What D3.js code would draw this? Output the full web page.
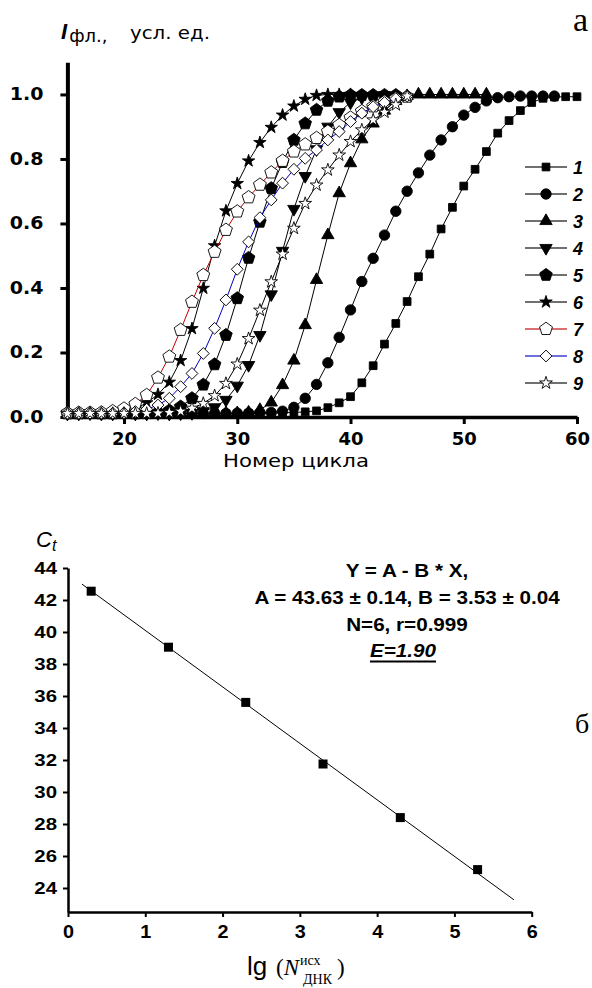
<!DOCTYPE html>
<html>
<head>
<meta charset="utf-8">
<script src="https://cdn.jsdelivr.net/npm/d3@7"></script>
<style>
    body { margin: 0; background: #fff; }
    svg { display: block; }
</style>
</head>
<body>
<div id="chart"></div>
<script>
// ---- panel a: fluorescence curves, one value per cycle starting at cycle 15
var firstCycle = 15;
var curve1 = [0.012, 0.011, 0.012, 0.011, 0.010, 0.011, 0.010, 0.011, 0.010, 0.010, 0.011, 0.010, 0.010, 0.011, 0.010,
    0.010, 0.011, 0.011, 0.012, 0.013, 0.014, 0.016,
    0.019, 0.029, 0.044, 0.063, 0.106, 0.159, 0.226, 0.290, 0.358, 0.435, 0.505, 0.583, 0.650, 0.716, 0.768, 0.823,
    0.880, 0.919, 0.950, 0.975, 0.988, 0.992, 0.993, 0.993];
var curve2 = [0.011, 0.012, 0.011, 0.011, 0.012, 0.011, 0.011, 0.012, 0.011, 0.011, 0.012, 0.011, 0.011, 0.012, 0.011,
    0.012, 0.012, 0.013, 0.014,
    0.018, 0.030, 0.058, 0.101, 0.168, 0.247, 0.332, 0.420, 0.492, 0.564, 0.638, 0.700, 0.757, 0.812, 0.859, 0.900,
    0.936, 0.960, 0.980, 0.990, 0.993, 0.995, 0.995, 0.995, 0.995];
var curve3 = [0.011, 0.011, 0.012, 0.011, 0.011, 0.012, 0.011, 0.011, 0.012, 0.011, 0.011, 0.012, 0.011, 0.011, 0.012, 0.012,
    0.014, 0.022, 0.045, 0.099, 0.175, 0.285, 0.425, 0.564, 0.694, 0.787, 0.861, 0.910, 0.950, 0.980, 0.995,
    1.0, 1.0, 1.0, 1.0, 1.0, 1.0, 1.0];
var curve4 = [0.010, 0.010, 0.011, 0.010, 0.010, 0.011, 0.010, 0.010, 0.011, 0.010, 0.011, 0.012,
    0.018, 0.030, 0.053, 0.097, 0.161, 0.254, 0.380, 0.515, 0.645, 0.747, 0.830, 0.900, 0.945, 0.975, 0.990, 0.995, 0.998];
var curve5 = [0.011, 0.011, 0.012, 0.011, 0.011, 0.012, 0.011, 0.012,
    0.014, 0.020, 0.032, 0.058, 0.100, 0.163, 0.254, 0.368, 0.493, 0.605, 0.709, 0.790, 0.859, 0.910, 0.952, 0.980,
    0.993, 0.998, 0.998, 0.998, 0.998, 0.998];
var curve6 = [0.012, 0.012, 0.013, 0.012, 0.013, 0.015,
    0.025, 0.044, 0.070, 0.108, 0.175, 0.274, 0.399, 0.531, 0.639, 0.724, 0.794, 0.851, 0.898, 0.936, 0.964, 0.985,
    0.997, 1.0, 1.0, 1.0];
var curve7 = [0.012, 0.013, 0.013, 0.014, 0.018, 0.026, 0.040, 0.068, 0.122, 0.187, 0.270, 0.357, 0.440, 0.512, 0.580,
    0.637, 0.681, 0.720, 0.758, 0.794, 0.823, 0.845, 0.865, 0.885, 0.905, 0.928, 0.948, 0.963, 0.977, 0.987, 0.993];
var curve8 = [0.012, 0.012, 0.012, 0.012, 0.012, 0.013, 0.017, 0.024, 0.037, 0.058, 0.094, 0.135, 0.197, 0.275, 0.363,
    0.458, 0.543, 0.618, 0.673, 0.725, 0.768, 0.802, 0.828, 0.859, 0.885, 0.916, 0.942, 0.962, 0.975, 0.987, 0.995];
var curve9 = [0.011, 0.011, 0.011, 0.011, 0.011, 0.011, 0.011, 0.011,
    0.012, 0.014, 0.018, 0.027, 0.042, 0.066, 0.104, 0.164, 0.243, 0.331, 0.419, 0.505, 0.585, 0.662, 0.719, 0.766,
    0.812, 0.854, 0.890, 0.921, 0.945, 0.968, 0.995];
var curveNames = ['1', '2', '3', '4', '5', '6', '7', '8', '9'];
var xTicksA = [20, 30, 40, 50, 60];
var xMinorA = [15, 25, 35, 45, 55];
var yTicksA = [0, 0.2, 0.4, 0.6, 0.8, 1.0];
var yMinorA = [0.1, 0.3, 0.5, 0.7, 0.9, 1.1];

// ---- panel b: Ct vs lg(N)
var lgN = [0.30, 1.30, 2.30, 3.30, 4.30, 5.30];
var ctValues = [42.55, 39.05, 35.60, 31.75, 28.40, 25.15];
var fitA = 43.63;
var fitB = 3.53;
var fitRange = [0.18, 5.77];
var xTicksB = [0, 1, 2, 3, 4, 5, 6];
var xMinorB = [0.5, 1.5, 2.5, 3.5, 4.5, 5.5];
var yTicksB = [24, 26, 28, 30, 32, 34, 36, 38, 40, 42, 44];
var yMinorB = [23, 25, 27, 29, 31, 33, 35, 37, 39, 41, 43];
var fitLines = ['Y = A - B * X,', 'A = 43.63 \u00b1 0.14, B = 3.53 \u00b1 0.04', 'N=6, r=0.999'];
var fitResult = 'E=1.90';

var width = 592;
var height = 988;

var svg = d3.select('#chart').append('svg')
    .attr('width', width)
    .attr('height', height);

// stretch text horizontally (the original figure is a bit wide)
function stretch(sel, k) {
    sel.each(function() {
        var t = d3.select(this);
        var x = +t.attr('x') || 0;
        t.attr('x', x / k).attr('transform', 'scale(' + k + ',1)');
    });
}

function pentagon(r) {
    var pts = [];
    for (var k = 0; k < 5; k++) {
        var a = -Math.PI / 2 + k * 2 * Math.PI / 5;
        pts.push([r * Math.cos(a), r * Math.sin(a)]);
    }
    return 'M' + pts.join('L') + 'Z';
}

var markerStyle = [
    { path: d3.symbol(d3.symbolSquare, 60)(), rot: 0, fill: '#000', line: '#000' },
    { path: d3.symbol(d3.symbolCircle, 85)(), rot: 0, fill: '#000', line: '#000' },
    { path: d3.symbol(d3.symbolTriangle, 66)(), rot: 0, fill: '#000', line: '#000' },
    { path: d3.symbol(d3.symbolTriangle, 66)(), rot: 180, fill: '#000', line: '#000' },
    { path: pentagon(6.6), rot: 0, fill: '#000', line: '#000' },
    { path: d3.symbol(d3.symbolStar, 48)(), rot: 0, fill: '#000', line: '#000' },
    { path: pentagon(6.8), rot: 0, fill: '#fff', line: '#c00000' },
    { path: d3.symbol(d3.symbolSquare, 70)(), rot: 45, fill: '#fff', line: '#0000c0' },
    { path: d3.symbol(d3.symbolStar, 50)(), rot: 0, fill: '#fff', line: '#000' }
];

// ================= panel a =================
var xA = d3.scaleLinear().domain([15, 60]).range([67.4, 577]);
var yA = d3.scaleLinear().domain([0, 1.1]).range([417, 62.2]);

var axisFont = 'DejaVu Sans, Verdana, sans-serif';

var gxA = svg.append('g').attr('transform', 'translate(0,' + yA(0) + ')');
gxA.call(d3.axisBottom(xA).tickValues(xMinorA).tickSize(5).tickSizeOuter(0).tickFormat(''));
gxA.call(d3.axisBottom(xA).tickValues(xTicksA).tickSize(7).tickPadding(8).tickSizeOuter(0).tickFormat(d3.format('d')));
gxA.selectAll('.domain').attr('stroke-width', 3.5);
gxA.selectAll('.tick line').attr('stroke-width', 3);
gxA.selectAll('text').attr('font-family', axisFont).attr('font-weight', 'bold').attr('font-size', 18).attr('fill', '#000');

var gyA = svg.append('g').attr('transform', 'translate(' + xA(15) + ',0)');
gyA.call(d3.axisLeft(yA).tickValues(yMinorA).tickSize(5).tickSizeOuter(0).tickFormat(''));
gyA.call(d3.axisLeft(yA).tickValues(yTicksA).tickSize(7).tickPadding(17).tickSizeOuter(0).tickFormat(d3.format('.1f')));
gyA.selectAll('.domain').attr('stroke-width', 4);
gyA.selectAll('.tick line').attr('stroke-width', 3);
gyA.selectAll('text').attr('font-family', axisFont).attr('font-weight', 'bold').attr('font-size', 17).attr('fill', '#000');
stretch(gyA.selectAll('text'), 1.12);

var curves = [curve1, curve2, curve3, curve4, curve5, curve6, curve7, curve8, curve9];
var lineA = d3.line()
    .x(function(d, i) { return xA(firstCycle + i); })
    .y(function(d) { return yA(d); });

var plotA = svg.append('g');
curves.forEach(function(values, k) {
    var st = markerStyle[k];
    var g = plotA.append('g');
    g.append('path')
        .attr('d', lineA(values))
        .attr('fill', 'none')
        .attr('stroke', st.line)
        .attr('stroke-width', 1);
    g.selectAll('path.mark')
        .data(values)
        .enter()
        .append('path')
        .attr('class', 'mark')
        .attr('d', st.path)
        .attr('transform', function(d, i) {
            return 'translate(' + xA(firstCycle + i) + ',' + yA(d) + ') rotate(' + st.rot + ')';
        })
        .attr('fill', st.fill)
        .attr('stroke', '#000')
        .attr('stroke-width', 0.9);
});

// legend
var legend = svg.append('g');
curveNames.forEach(function(name, k) {
    var st = markerStyle[k];
    var yy = 167 + k * 27;
    legend.append('line')
        .attr('x1', 525).attr('x2', 567)
        .attr('y1', yy).attr('y2', yy)
        .attr('stroke', st.line)
        .attr('stroke-opacity', 0.75)
        .attr('stroke-width', 1.3);
    legend.append('path')
        .attr('d', st.path)
        .attr('transform', 'translate(546,' + yy + ') rotate(' + st.rot + ')')
        .attr('fill', st.fill)
        .attr('stroke', '#000')
        .attr('stroke-width', 0.9);
    legend.append('text')
        .attr('x', 573)
        .attr('y', yy + 6.5)
        .attr('font-family', 'Liberation Sans, Arial, sans-serif')
        .attr('font-weight', 'bold')
        .attr('font-style', 'italic')
        .attr('font-size', 18)
        .text(name);
});

// titles of panel a
var titleA = svg.append('text')
    .attr('x', 61)
    .attr('y', 39)
    .attr('font-family', axisFont)
    .attr('font-size', 18);
titleA.append('tspan').attr('font-weight', 'bold').attr('font-style', 'italic')
    .attr('font-family', 'Liberation Sans, Arial, sans-serif').attr('font-size', 22).text('I');
titleA.append('tspan').attr('dx', 2).attr('dy', 3).text('фл.,');

var unitA = svg.append('text')
    .attr('x', 130)
    .attr('y', 39)
    .attr('font-family', axisFont)
    .attr('font-size', 18)
    .text('усл. ед.');
stretch(unitA, 1.1);

var xTitleA = svg.append('text')
    .attr('x', 296)
    .attr('y', 467)
    .attr('text-anchor', 'middle')
    .attr('font-family', axisFont)
    .attr('font-size', 18)
    .text('Номер цикла');
stretch(xTitleA, 1.18);

svg.append('text')
    .attr('x', 573)
    .attr('y', 31)
    .attr('font-family', 'Liberation Serif, Times New Roman, serif')
    .attr('font-size', 34)
    .text('а');

svg.append('text')
    .attr('x', 575)
    .attr('y', 733)
    .attr('font-family', 'Liberation Serif, Times New Roman, serif')
    .attr('font-size', 28)
    .text('б');

// ================= panel b =================
var xB = d3.scaleLinear().domain([0, 6]).range([68, 531.7]);
var yB = d3.scaleLinear().domain([22.5, 44]).range([912, 568]);
var arial = 'Liberation Sans, Arial, sans-serif';

var gxB = svg.append('g').attr('transform', 'translate(0,' + yB(22.5) + ')');
gxB.call(d3.axisBottom(xB).tickValues(xMinorB).tickSize(3).tickSizeOuter(0).tickFormat(''));
gxB.call(d3.axisBottom(xB).tickValues(xTicksB).tickSize(5).tickPadding(8).tickSizeOuter(0).tickFormat(d3.format('d')));
gxB.selectAll('.domain').attr('stroke-width', 2.5);
gxB.selectAll('.tick line').attr('stroke-width', 2);
gxB.selectAll('text').attr('font-family', arial).attr('font-weight', 'bold').attr('font-size', 18).attr('fill', '#000');
stretch(gxB.selectAll('text'), 1.1);

var gyB = svg.append('g').attr('transform', 'translate(' + xB(0) + ',0)');
gyB.call(d3.axisLeft(yB).tickValues(yMinorB).tickSize(3).tickSizeOuter(0).tickFormat(''));
gyB.call(d3.axisLeft(yB).tickValues(yTicksB).tickSize(5).tickPadding(6).tickSizeOuter(0).tickFormat(d3.format('d')));
gyB.selectAll('.domain').attr('stroke-width', 2.5);
gyB.selectAll('.tick line').attr('stroke-width', 2);
gyB.selectAll('text').attr('font-family', arial).attr('font-weight', 'bold').attr('font-size', 17).attr('fill', '#000');
stretch(gyB.selectAll('text'), 1.2);

// fit line
svg.append('line')
    .attr('x1', xB(fitRange[0])).attr('y1', yB(fitA - fitB * fitRange[0]))
    .attr('x2', xB(fitRange[1])).attr('y2', yB(fitA - fitB * fitRange[1]))
    .attr('stroke', '#000')
    .attr('stroke-width', 1);

svg.append('g')
    .selectAll('rect')
    .data(lgN)
    .enter()
    .append('rect')
    .attr('x', function(d) { return xB(d) - 4.5; })
    .attr('y', function(d, i) { return yB(ctValues[i]) - 4.5; })
    .attr('width', 9)
    .attr('height', 9)
    .attr('fill', '#000');

// fit text
var fitText = svg.append('g');
fitLines.forEach(function(s, i) {
    fitText.append('text')
        .attr('x', 407)
        .attr('y', 577 + i * 26.8)
        .attr('text-anchor', 'middle')
        .attr('font-family', arial)
        .attr('font-weight', 'bold')
        .attr('font-size', 17.5)
        .text(s);
});
var eText = fitText.append('text')
    .attr('x', 403)
    .attr('y', 657)
    .attr('text-anchor', 'middle')
    .attr('font-family', arial)
    .attr('font-weight', 'bold')
    .attr('font-style', 'italic')
    .attr('font-size', 17.5)
    .text(fitResult);
stretch(fitText.selectAll('text'), 1.18);
var eLen = eText.node().getComputedTextLength() * 1.18;
fitText.append('line')
    .attr('x1', 403 - eLen / 2).attr('x2', 403 + eLen / 2)
    .attr('y1', 661.5).attr('y2', 661.5)
    .attr('stroke', '#000')
    .attr('stroke-width', 2);

// axis titles of panel b
var ct = svg.append('text')
    .attr('x', 36)
    .attr('y', 547)
    .attr('font-family', arial)
    .attr('font-style', 'italic')
    .attr('font-size', 22);
ct.append('tspan').text('C');
ct.append('tspan').attr('dy', 4).attr('font-size', 16).text('t');

var serif = 'Liberation Serif, Times New Roman, serif';
var xt = svg.append('text')
    .attr('x', 247)
    .attr('y', 975)
    .attr('font-family', arial)
    .attr('font-size', 26);
xt.append('tspan').text('lg');
xt.append('tspan').attr('font-family', serif).attr('font-size', 23).attr('x', 276).text('(');
xt.append('tspan').attr('font-family', serif).attr('font-style', 'italic').attr('font-size', 23).text('N');
xt.append('tspan').attr('font-family', serif).attr('font-size', 14).attr('dy', -10).attr('dx', 1).text('исх');
xt.append('tspan').attr('font-family', serif).attr('font-size', 14).attr('x', 303).attr('dy', 19).text('ДНК');
xt.append('tspan').attr('font-family', serif).attr('font-size', 23).attr('x', 337).attr('dy', -9).text(')');
</script>
</body>
</html>
